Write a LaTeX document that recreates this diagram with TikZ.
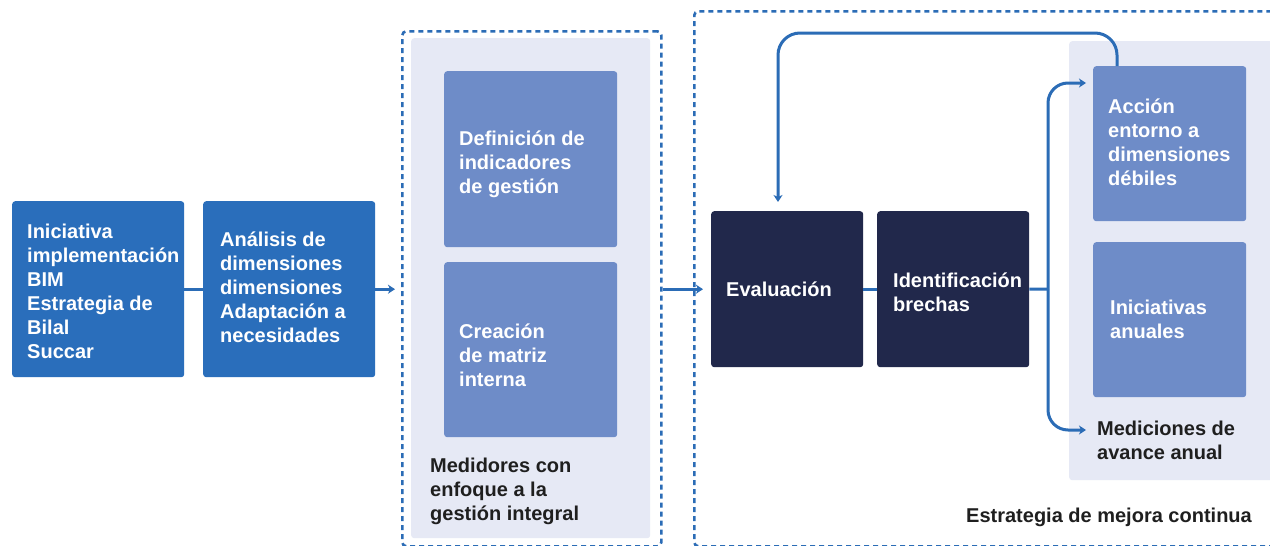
\documentclass[tikz,border=0pt]{standalone}
\usepackage{fontspec}
\setmainfont{Liberation Sans}
\usetikzlibrary{arrows.meta,calc}
\definecolor{bblue}{HTML}{2A6EBB}
\definecolor{cblue}{HTML}{2B6CB6}
\definecolor{panel}{HTML}{E6E9F5}
\definecolor{mblue}{HTML}{6E8CC8}
\definecolor{navy}{HTML}{21284B}
\definecolor{dark}{HTML}{1F1F1F}
\newcommand{\mlines}[1]{\parbox[t]{300pt}{#1}}
\begin{document}
\begin{tikzpicture}[x=1pt,y=-1pt,
  box/.style={rectangle, rounded corners=3pt, inner sep=0pt, anchor=north west, draw=none},
  dbox/.style={rectangle, rounded corners=4pt, inner sep=0pt, anchor=north west, draw=cblue, line width=2.6pt, dash pattern=on 5pt off 4pt},
  line/.style={draw=cblue, line width=3pt},
  arr/.style={draw=cblue, line width=3pt, -{Stealth[length=7pt,width=9pt,inset=2pt]}},
  txt/.style={anchor=base west, inner sep=0pt, font=\fontsize{20}{24}\selectfont\bfseries, text=white},
  lbl/.style={txt, text=dark}]
\clip (0,0) rectangle (1270,546);
\fill[white] (0,0) rectangle (1270,546);
% dashed groups
\node[dbox, minimum width=259pt, minimum height=515pt] (d1) at (401,30) {};
\node[dbox, minimum width=590pt, minimum height=535pt] (d2) at (693,10) {};
% panels
\node[box, fill=panel, minimum width=239pt, minimum height=500pt] (p1) at (411,38) {};
\node[box, fill=panel, minimum width=215pt, minimum height=439pt] (p2) at (1069,41) {};
% boxes
\node[box, fill=bblue, minimum width=172pt, minimum height=176pt] (b1) at (12,201) {};
\node[box, fill=bblue, minimum width=172pt, minimum height=176pt] (b2) at (203,201) {};
\node[box, fill=mblue, minimum width=173pt, minimum height=176pt] (def) at (444,71) {};
\node[box, fill=mblue, minimum width=173pt, minimum height=175pt] (cre) at (444,262) {};
\node[box, fill=navy, minimum width=152pt, minimum height=156pt] (eval) at (711,211) {};
\node[box, fill=navy, minimum width=152pt, minimum height=156pt] (ident) at (877,211) {};
\node[box, fill=mblue, minimum width=153pt, minimum height=155pt] (acc) at (1093,66) {};
\node[box, fill=mblue, minimum width=153pt, minimum height=155pt] (ini) at (1093,242) {};
% texts
\node[txt] (tb1) at (27,238) {\mlines{Iniciativa\\implementación\\BIM\\Estrategia de\\Bilal\\Succar}};
\node[txt] (tb2) at (220,246) {\mlines{Análisis de\\dimensiones\\dimensiones\\Adaptación a\\necesidades}};
\node[txt] (tdef) at (459,145) {\mlines{Definición de\\indicadores\\de gestión}};
\node[txt] (tcre) at (459,338) {\mlines{Creación\\de matriz\\interna}};
\node[lbl] (tmed) at (430,472) {\mlines{Medidores con\\enfoque a la\\gestión integral}};
\node[txt] (teval) at (726,296) {Evaluación};
\node[txt] (tident) at (893,287) {\mlines{Identificación\\brechas}};
\node[txt] (tacc) at (1108,113) {\mlines{Acción\\entorno a\\dimensiones\\débiles}};
\node[txt] (tini) at (1110,314) {\mlines{Iniciativas\\anuales}};
\node[lbl] (tmav) at (1097,435) {\mlines{Mediciones de\\avance anual}};
\node[lbl] (test) at (966,522) {Estrategia de mejora continua};
% connectors
\draw[line] (b1.east) -- (b2.west);
\draw[arr] (b2.east) -- ($(b2.east -| d1.west)+(-6,0)$);
\draw[arr] (d1.east |- eval.west) -- ($(eval.west)+(-8,0)$);
\draw[line] (eval.east) -- (ident.west);
\coordinate (j) at (1048,289);
\draw[line] (ident.east) -- (j);
\draw[arr, rounded corners=20pt] (j) |- ($(acc.north west)+(-7,17)$);
\draw[arr, rounded corners=20pt] (j) |- ($(tmav.base west)+(-11,-5)$);
\draw[arr, rounded corners=22pt] ($(acc.north west)+(24,0)$) |- ($(eval.north west)+(67,-178)$) -- ($(eval.north west)+(67,-9)$);
\end{tikzpicture}
\end{document}
